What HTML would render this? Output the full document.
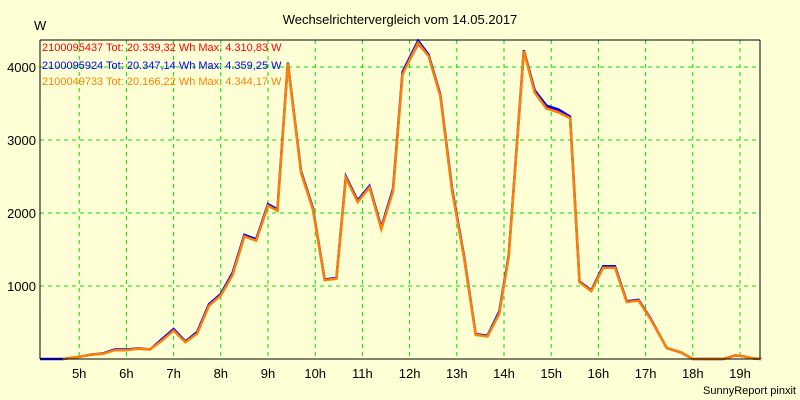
<!DOCTYPE html>
<html><head><meta charset="utf-8"><style>
body{margin:0;background:#ffffd6;}
svg{display:block;font-family:"Liberation Sans",sans-serif;}
</style></head><body>
<svg id="chart" width="800" height="400">
<rect width="800" height="400" fill="#ffffd6"/>
<text x="400" y="24" font-size="13" text-anchor="middle">Wechselrichtervergleich vom 14.05.2017</text>
<text x="34" y="30" font-size="13">W</text>
<g id="grid"></g><g id="series"></g>
<line x1="40" y1="40" x2="760" y2="40" stroke="#000"/>
<line x1="760" y1="40" x2="760" y2="359" stroke="#000"/>
<line x1="40" y1="40" x2="40" y2="359" stroke="#000"/>
<line x1="40" y1="359" x2="760" y2="359" stroke="#000"/>
<g font-size="11">
<text x="42" y="51" fill="#ff0000">2100095437 Tot: 20.339,32 Wh Max: 4.310,83 W</text>
<text x="42" y="69" fill="#0000ff">2100095924 Tot: 20.347,14 Wh Max: 4.359,25 W</text>
<text x="42" y="85" fill="#ff8000">2100049733 Tot: 20.166,22 Wh Max: 4.344,17 W</text>
</g>
<text x="796" y="394" font-size="11" text-anchor="end">SunnyReport pinxit</text>
</svg>
<script>
const yTicks=[1000,2000,3000,4000];
const xTicks=[5,6,7,8,9,10,11,12,13,14,15,16,17,18,19];
const times=[4.17,4.65,5.0,5.25,5.5,5.75,6.0,6.25,6.5,6.75,7.0,7.25,7.5,7.75,8.0,8.25,8.5,8.75,9.0,9.2,9.42,9.7,9.95,10.2,10.45,10.65,10.9,11.15,11.4,11.65,11.85,12.18,12.4,12.65,12.9,13.15,13.4,13.65,13.9,14.1,14.42,14.65,14.9,15.15,15.4,15.6,15.85,16.1,16.35,16.6,16.85,17.1,17.45,17.75,18.0,18.65,18.9,19.05,19.25,19.45];
const orange=[0,0,30,60,70,120,120,140,130,250,390,230,350,730,870,1150,1680,1620,2100,2030,4050,2550,2050,1080,1100,2480,2150,2350,1780,2300,3900,4330,4150,3600,2300,1400,330,310,620,1400,4220,3650,3430,3380,3300,1050,930,1250,1250,780,800,550,150,90,0,0,50,40,10,0];
const blue=[0,0,30,60,75,130,130,145,130,270,410,240,370,750,890,1180,1700,1640,2120,2050,4060,2570,2070,1090,1110,2500,2170,2370,1800,2330,3930,4360,4170,3620,2330,1420,340,320,650,1420,4230,3680,3470,3420,3320,1060,940,1270,1270,790,810,560,150,90,0,0,50,40,10,0];
const red=[0,0,30,60,72,125,125,142,130,260,400,235,360,740,880,1165,1690,1630,2110,2040,4040,2560,2060,1085,1105,2490,2160,2360,1790,2310,3910,4310,4160,3610,2310,1410,335,315,635,1410,4210,3660,3450,3400,3310,1055,935,1260,1260,785,805,555,150,90,0,0,50,40,10,0];
const X=t=>32+(t-4)*47.2, Y=v=>359-v*0.073;
const NS="http://www.w3.org/2000/svg";
const grid=document.getElementById('grid'), ser=document.getElementById('series'), svg=document.getElementById('chart');
yTicks.forEach(v=>{
  const l=document.createElementNS(NS,'line');
  l.setAttribute('x1',40);l.setAttribute('x2',760);l.setAttribute('y1',Y(v));l.setAttribute('y2',Y(v));
  l.setAttribute('stroke','#00e000');l.setAttribute('stroke-dasharray','4,4');
  
  
  grid.appendChild(l);
  const t=document.createElementNS(NS,'text');
  t.setAttribute('x',36);t.setAttribute('y',Y(v)+5);t.setAttribute('text-anchor','end');t.setAttribute('font-size','13');
  t.textContent=v;
  
  
  svg.appendChild(t);
});
xTicks.forEach(h=>{
  const l=document.createElementNS(NS,'line');
  l.setAttribute('x1',X(h));l.setAttribute('x2',X(h));l.setAttribute('y1',40);l.setAttribute('y2',359);
  l.setAttribute('stroke','#00e000');l.setAttribute('stroke-dasharray','4,4');
  
  
  grid.appendChild(l);
  const t=document.createElementNS(NS,'text');
  t.setAttribute('x',X(h));t.setAttribute('y',378);t.setAttribute('text-anchor','middle');t.setAttribute('font-size','13');
  t.textContent=h+'h';
  
  
  svg.appendChild(t);
});
function draw(vals,color,w,name,start){
  const p=document.createElementNS(NS,'polyline');
  p.setAttribute('points',vals.map((v,i)=>i>=start?X(times[i])+','+Y(v):null).filter(s=>s).join(' '));
  p.setAttribute('fill','none');p.setAttribute('stroke',color);p.setAttribute('stroke-width',w);
  
  
  ser.appendChild(p);
}
draw(red,'#ff0000',2,'series-red',0);
draw(blue,'#0000ff',2.5,'series-blue',0);
draw(orange,'#ff8000',2.5,'series-orange',1);
</script>
</body></html>
